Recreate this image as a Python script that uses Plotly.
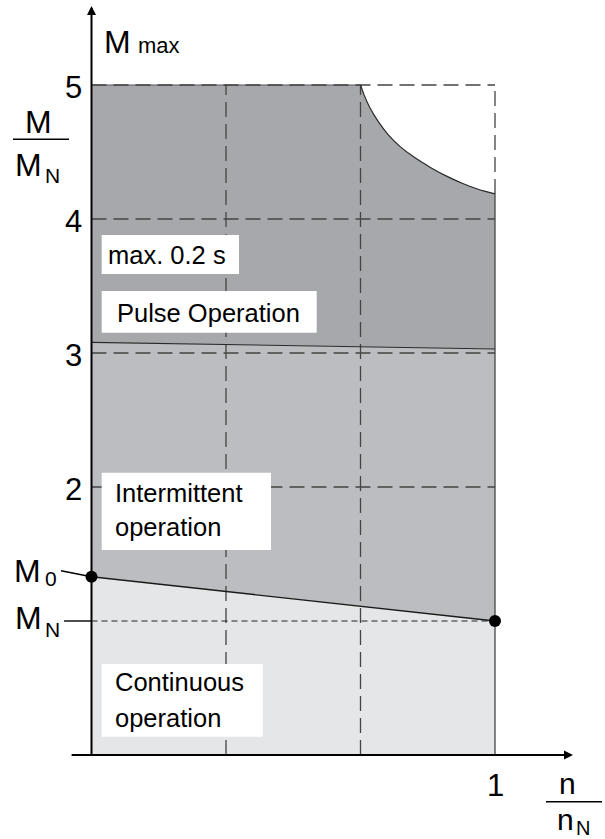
import plotly.graph_objects as go

# ---- operating-range data (speed ratio n/nN, torque ratio M/MN) ----
grid_n = [1/3, 2/3]                 # dashed verticals
grid_m = [2, 3, 4, 5]               # dashed horizontals and tick labels
m_max = 5.0
m0 = 1.33                           # stall torque M0 at n = 0
mn = 1.0                            # rated torque MN at n = nN
pulse_left = 3.08                   # pulse / intermittent border at n = 0
pulse_right = 3.03                  # pulse / intermittent border at n = nN
curve_n = [0.667, 0.675, 0.690, 0.710, 0.735, 0.765, 0.800, 0.840, 0.880,
           0.920, 0.960, 1.0]
curve_m = [5.0, 4.93, 4.83, 4.73, 4.63, 4.54, 4.46, 4.385, 4.32,
           4.265, 4.22, 4.187]

W, H = 605, 839
X_ORIGIN, X_UNIT = 91.5, 403.5      # pixel position of n=0 and length of one unit
Y_ORIGIN, Y_UNIT = 755.0, 134.0

C_PULSE = "#a7a8ab"
C_INTER = "#bcbdc0"
C_CONT = "#e5e6e7"
C_DASH = "#444444"
FONT = "Liberation Sans, Arial, sans-serif"


def px(x):
    return x / W


def py(y):
    return 1 - y / H


fig = go.Figure()

# filled regions
fig.add_trace(go.Scatter(x=[0, 1, 1, 0], y=[0, 0, mn, m0], fill="toself",
                         fillcolor=C_CONT, line=dict(width=0), mode="lines"))
fig.add_trace(go.Scatter(x=[0, 1, 1, 0], y=[m0, mn, pulse_right, pulse_left],
                         fill="toself", fillcolor=C_INTER, line=dict(width=0),
                         mode="lines"))
pulse_x = [0, 1] + curve_n[::-1] + [0]
pulse_y = [pulse_left, pulse_right] + curve_m[::-1] + [m_max]
fig.add_trace(go.Scatter(x=pulse_x, y=pulse_y, fill="toself", fillcolor=C_PULSE,
                         line=dict(width=0), mode="lines"))

# solid outer edges of the region
fig.add_trace(go.Scatter(x=[0, curve_n[0]], y=[m_max, m_max], mode="lines",
                         line=dict(color="#555555", width=1)))
fig.add_trace(go.Scatter(x=[1, 1], y=[0, curve_m[-1]], mode="lines",
                         line=dict(color="#444444", width=1.3)))

# dashed grid
for m in grid_m:
    fig.add_trace(go.Scatter(x=[0, 1], y=[m, m], mode="lines",
                             line=dict(color=C_DASH, width=1.3, dash="15px,7px")))
for n in grid_n:
    fig.add_trace(go.Scatter(x=[n, n], y=[0, m_max], mode="lines",
                             line=dict(color=C_DASH, width=1.3, dash="15px,7px")))
fig.add_trace(go.Scatter(x=[1, 1], y=[curve_m[-1], m_max], mode="lines",
                         line=dict(color=C_DASH, width=1.3, dash="15px,7px")))
fig.add_trace(go.Scatter(x=[0, 1], y=[mn, mn], mode="lines",
                         line=dict(color="#222222", width=1.2, dash="6px,4px")))

# region borders
fig.add_trace(go.Scatter(x=[0, 1], y=[m0, mn], mode="lines",
                         line=dict(color="#1a1a1a", width=1.4)))
fig.add_trace(go.Scatter(x=[0, 1], y=[pulse_left, pulse_right], mode="lines",
                         line=dict(color="#2a2a2a", width=1.2)))
fig.add_trace(go.Scatter(x=curve_n, y=curve_m, mode="lines",
                         line=dict(color="#2a2a2a", width=1.2, shape="spline",
                                   smoothing=0.6)))

# leader lines to M0 and MN
fig.add_trace(go.Scatter(x=[-0.0756, 0], y=[m0 + 0.045, m0], mode="lines",
                         line=dict(color="black", width=1.4)))
fig.add_trace(go.Scatter(x=[-0.068, 0], y=[mn, mn], mode="lines",
                         line=dict(color="black", width=1.4)))

# characteristic points
fig.add_trace(go.Scatter(x=[0, 1], y=[m0, mn], mode="markers",
                         marker=dict(color="black", size=12)))

# white label boxes
boxes = [(101.7, 235, 239, 274), (101.7, 291, 316.7, 332.7),
         (101.7, 472.7, 271, 550), (101.7, 664, 262.7, 736.7)]
shapes = []
for x0, y0, x1, y1 in boxes:
    shapes.append(dict(type="rect", xref="paper", yref="paper", x0=px(x0), x1=px(x1),
                       y0=py(y1), y1=py(y0), fillcolor="white",
                       line=dict(width=0), layer="above"))
# fraction bars of the axis titles
shapes.append(dict(type="line", xref="paper", yref="paper", x0=px(13), x1=px(69),
                   y0=py(139.3), y1=py(139.3), line=dict(color="black", width=1.5)))
shapes.append(dict(type="line", xref="paper", yref="paper", x0=px(546), x1=px(602),
                   y0=py(801.7), y1=py(801.7), line=dict(color="black", width=1.5)))

annotations = []

# axes with arrow heads
annotations.append(dict(x=0, y=(Y_ORIGIN - 6) / Y_UNIT, ax=0, ay=-0.015,
                        xref="x", yref="y", axref="x", ayref="y", text="",
                        showarrow=True, arrowhead=2, arrowsize=0.9, arrowwidth=2,
                        arrowcolor="black", standoff=0, startstandoff=0))
annotations.append(dict(x=(573 - X_ORIGIN) / X_UNIT, y=0, ax=-0.053, ay=0,
                        xref="x", yref="y", axref="x", ayref="y", text="",
                        showarrow=True, arrowhead=2, arrowsize=0.9, arrowwidth=2,
                        arrowcolor="black", standoff=0, startstandoff=0))


def label(text, x, y, size, xanchor="center"):
    annotations.append(dict(text=text, x=px(x), y=py(y), xref="paper", yref="paper",
                            xanchor=xanchor, yanchor="middle", showarrow=False,
                            font=dict(family=FONT, size=size, color="black")))


# tick labels
for m in grid_m:
    annotations.append(dict(text=str(m), x=0, y=m, xref="x", yref="y",
                            xanchor="right", yanchor="middle", xshift=-8, yshift=-2.5,
                            showarrow=False,
                            font=dict(family=FONT, size=31, color="black")))
annotations.append(dict(text="1", x=1, y=0, xref="x", yref="y",
                        xanchor="center", yanchor="middle", yshift=-30,
                        showarrow=False, font=dict(family=FONT, size=31, color="black")))

# axis titles
label("M", 102, 42, 32, "left")
label("max", 136, 45.4, 22, "left")
label("M", 38.5, 122, 32)
label("M", 28.5, 165, 32)
label("N", 52, 175.7, 21)
label("n", 567, 783.6, 30)
label("n", 565, 819.6, 30)
label("N", 583, 827.5, 20)

# M0 / MN markers
label("M", 27.5, 571, 32)
label("0", 51, 578.7, 21)
label("M", 28.5, 618.3, 32)
label("N", 52.5, 629.4, 21)

# region captions
label("max. 0.2 s", 106, 254.7, 25.5, "left")
label("Pulse Operation", 115, 313, 25.5, "left")
label("Intermittent", 113, 493, 25.5, "left")
label("operation", 113, 527.4, 25.5, "left")
label("Continuous", 113, 682, 25.5, "left")
label("operation", 113, 718, 25.5, "left")

fig.update_layout(
    width=W, height=H, margin=dict(l=0, r=0, t=0, b=0),
    paper_bgcolor="white", plot_bgcolor="white", showlegend=False,
    xaxis=dict(visible=False, range=[-X_ORIGIN / X_UNIT, (W - X_ORIGIN) / X_UNIT],
               fixedrange=True),
    yaxis=dict(visible=False, range=[(Y_ORIGIN - H) / Y_UNIT, Y_ORIGIN / Y_UNIT],
               fixedrange=True),
    shapes=shapes, annotations=annotations, hovermode=False,
)

fig.write_html("out.html")
